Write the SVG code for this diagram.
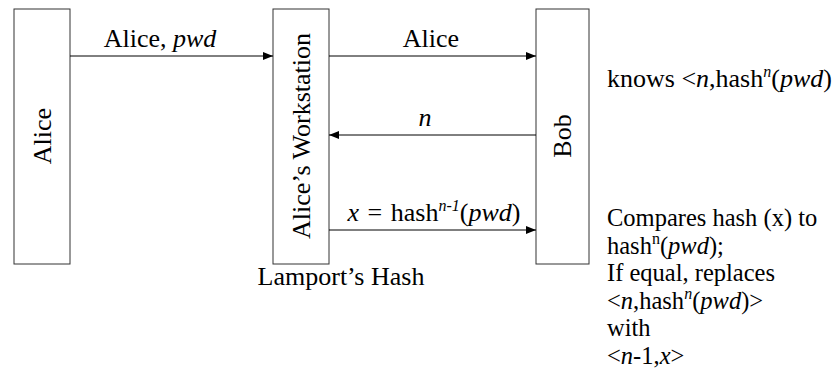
<svg xmlns="http://www.w3.org/2000/svg" width="837" height="392" viewBox="0 0 837 392">
<defs>
<style>
text{font-family:"Liberation Serif","Times New Roman",serif;font-size:26px;fill:#000}
.note{font-size:24.5px}
.box{fill:#fff;stroke:#333;stroke-width:1}
.ln{stroke:#000;stroke-width:1;fill:none}
.i{font-style:italic}
.sup{font-size:16px}
</style>
<marker id="ah" viewBox="0 0 10 10" refX="10" refY="5" markerWidth="10" markerHeight="10" markerUnits="userSpaceOnUse" orient="auto">
<path d="M0,1 L10,5 L0,9 z" fill="#000"/>
</marker>
</defs>
<rect width="837" height="392" fill="#fff"/>
<g id="alice">
<rect class="box" x="14" y="9" width="56" height="255"/>
<text transform="translate(51,136) rotate(-90)" text-anchor="middle">Alice</text>
</g>
<g id="workstation">
<rect class="box" x="273" y="9" width="56" height="255"/>
<text transform="translate(310,136) rotate(-90)" text-anchor="middle">Alice’s Workstation</text>
</g>
<g id="bob">
<rect class="box" x="536" y="9" width="53" height="255"/>
<text transform="translate(571,136) rotate(-90)" text-anchor="middle">Bob</text>
</g>
<g id="connectors">
<line class="ln" x1="70" y1="56" x2="273" y2="56" marker-end="url(#ah)"/>
<line class="ln" x1="329" y1="56" x2="536" y2="56" marker-end="url(#ah)"/>
<line class="ln" x1="536" y1="135" x2="329" y2="135" marker-end="url(#ah)"/>
<line class="ln" x1="329" y1="230" x2="536" y2="230" marker-end="url(#ah)"/>
<text x="160" y="47" text-anchor="middle">Alice, <tspan class="i">pwd</tspan></text>
<text x="431" y="47" text-anchor="middle">Alice</text>
<text x="425" y="126" text-anchor="middle" class="i">n</text>
<text x="434" y="221" text-anchor="middle" word-spacing="2"><tspan class="i">x</tspan> = hash<tspan class="sup i" dy="-10">n-1</tspan><tspan dy="10">(</tspan><tspan class="i">pwd</tspan>)</text>
</g>
<g id="notes">
<text x="607" y="87">knows &lt;<tspan class="i">n</tspan>,hash<tspan class="sup i" dy="-10">n</tspan><tspan dy="10">(</tspan><tspan class="i">pwd</tspan>)</text>
<text x="341" y="285" text-anchor="middle">Lamport’s Hash</text>
<text class="note" x="607" y="226">Compares hash (x) to</text>
<text class="note" x="607" y="253.6">hash<tspan class="sup" dy="-10">n</tspan><tspan dy="10">(</tspan><tspan class="i">pwd</tspan>);</text>
<text class="note" x="607" y="281.2">If equal, replaces</text>
<text class="note" x="607" y="308.8">&lt;<tspan class="i">n</tspan>,hash<tspan class="sup i" dy="-10">n</tspan><tspan dy="10">(</tspan><tspan class="i">pwd</tspan>)&gt;</text>
<text class="note" x="607" y="336.4">with</text>
<text class="note" x="607" y="364">&lt;<tspan class="i">n</tspan>-1,<tspan class="i">x</tspan>&gt;</text>
</g>
</svg>
